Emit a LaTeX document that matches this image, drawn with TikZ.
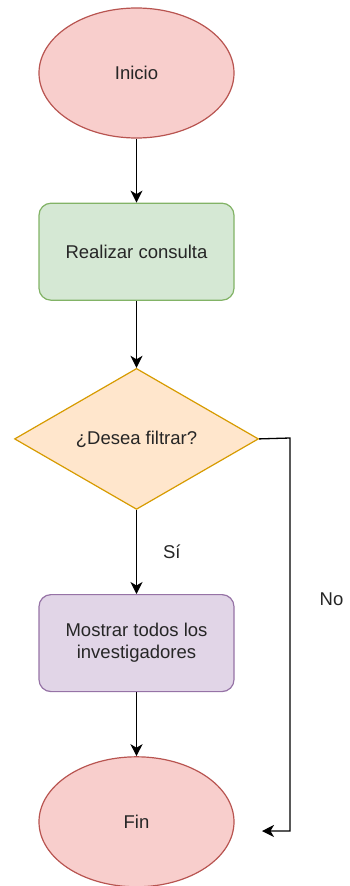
\documentclass[tikz,border=0pt]{standalone}
\usepackage{fontspec}
\setmainfont{Liberation Sans}
\usepackage{tikz}
\usetikzlibrary{arrows.meta,positioning,shapes.geometric}
\definecolor{redfill}{HTML}{F8CECC}
\definecolor{reddraw}{HTML}{B85450}
\definecolor{greenfill}{HTML}{D5E8D4}
\definecolor{greendraw}{HTML}{82B366}
\definecolor{orangefill}{HTML}{FFE6CC}
\definecolor{orangedraw}{HTML}{D79B00}
\definecolor{purplefill}{HTML}{E1D5E7}
\definecolor{purpledraw}{HTML}{9673A6}

\begin{document}
\begin{tikzpicture}[x=1pt, y=1pt, >={Stealth[length=12pt,width=12pt,inset=3.5pt]},
  font=\fontsize{18.5}{22}\selectfont]
\tikzstyle{terminal}=[ellipse, draw=reddraw, fill=redfill, line width=1.2pt, inner sep=0pt, minimum width=195pt, minimum height=130pt, text=black!85]
\tikzstyle{process}=[rectangle, rounded corners=12pt, line width=1.2pt, inner sep=0pt, minimum width=195pt, minimum height=97pt, align=center, text=black!85]
\tikzstyle{decision}=[diamond, aspect=1.73, draw=orangedraw, fill=orangefill, line width=1.2pt, inner sep=0pt, minimum width=244pt, minimum height=141pt, text=black!85]
\tikzstyle{flow}=[->, line width=1.3pt, black]
\tikzstyle{lbl}=[text=black!85, inner sep=0pt]
\useasboundingbox (0,0) rectangle (350,-886);
\node[terminal] (inicio) at (136.5,-73) {Inicio};
\node[process, draw=greendraw, fill=greenfill, below=64pt of inicio] (consulta) {Realizar consulta};
\node[decision, below=67pt of consulta] (filtrar) {¿Desea filtrar?};
\node[process, draw=purpledraw, fill=purplefill, below=84pt of filtrar] (mostrar) {Mostrar todos los\\investigadores};
\node[terminal, below=64pt of mostrar] (fin) {Fin};
\coordinate (noturn) at (290,-438);
\coordinate (noend) at (262,-831);
\draw[flow] (inicio) -- (consulta); %
\draw[flow] (consulta) -- (filtrar); %
\draw[flow] (filtrar) -- node[lbl, right=26pt] {Sí} (mostrar); %
\draw[flow] (mostrar) -- (fin); %
\draw[flow] (filtrar.east) -- (noturn) -- node[lbl, pos=0.41, right=29pt] {No} (noturn |- noend) -- (noend); %
\end{tikzpicture}
\end{document}
